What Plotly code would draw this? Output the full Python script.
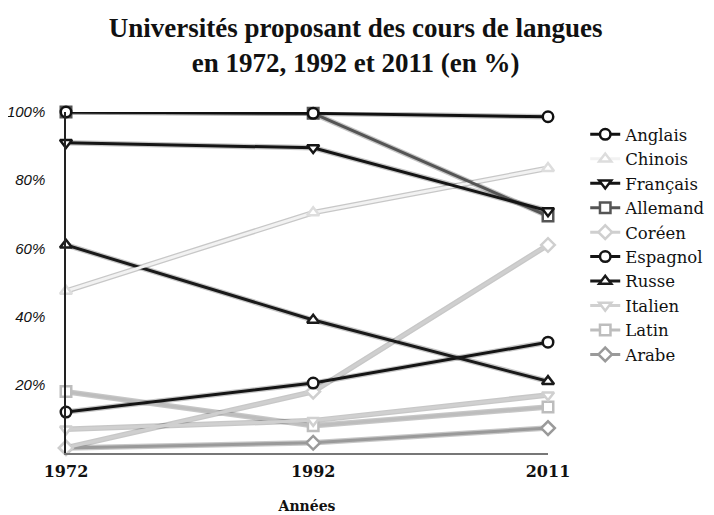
import plotly.graph_objects as go

years = [1972, 1992, 2011]
languages = ["Anglais", "Chinois", "Français", "Allemand", "Coréen",
             "Espagnol", "Russe", "Italien", "Latin", "Arabe"]
anglais = [100, 99.6, 98.6]
chinois = [47.5, 70.5, 83.5]
francais = [91, 89.5, 71]
allemand = [100, 99.6, 69.5]
coreen = [1.5, 18, 61]
espagnol = [12, 20.5, 32.5]
russe = [61, 39, 21]
italien = [7, 9.5, 17]
latin = [18, 8, 13.5]
arabe = [1.5, 3, 7.3]
y_ticks = [20, 40, 60, 80, 100]
y_tick_labels = ["20%", "40%", "60%", "80%", "100%"]

series = [anglais, chinois, francais, allemand, coreen,
          espagnol, russe, italien, latin, arabe]
colors = ["#111111", "#f2f2f2", "#151515", "#555555", "#cfcfcf",
          "#151515", "#1a1a1a", "#d0d0d0", "#bdbdbd", "#9a9a9a"]
symbols = ["circle", "triangle-up", "triangle-down", "square", "diamond",
           "circle", "triangle-up", "triangle-down", "square", "diamond"]

fig = go.Figure()

# soft shadow/outline under every line
for vals in series:
    fig.add_trace(go.Scatter(
        x=years, y=vals, mode="lines",
        line=dict(color="rgba(0,0,0,0.22)", width=5.5),
        showlegend=False, hoverinfo="skip", cliponaxis=False))

draw_order = [9, 8, 7, 4, 5, 6, 1, 3, 2, 0]
traces = {}
for i in range(len(languages)):
    traces[i] = go.Scatter(
        x=years, y=series[i], mode="lines+markers", name=languages[i],
        legendgroup=languages[i],
        line=dict(color=colors[i], width=3),
        marker=dict(symbol=symbols[i], size=10.5, color="white",
                    line=dict(color=colors[i] if i != 1 else "#dddddd", width=2.5)),
        cliponaxis=False, legendrank=i + 1)
for i in draw_order:
    fig.add_trace(traces[i])

fig.update_layout(
    width=714, height=515,
    paper_bgcolor="white", plot_bgcolor="white",
    margin=dict(l=58, r=173, t=104, b=70),
    title=dict(
        text="Universités proposant des cours de langues<br>en 1972, 1992 et 2011 (en %)",
        x=0.487, xanchor="center", y=0.944, yanchor="middle",
        font=dict(family="Liberation Serif", size=27, color="#111111", weight="bold")),
    legend=dict(
        x=1.075, xanchor="left", y=0.985, yanchor="top",
        font=dict(family="DejaVu Serif", size=16.5, color="#111111"),
        traceorder="normal", bgcolor="rgba(0,0,0,0)", tracegroupgap=0),
    xaxis=dict(
        range=[1972, 2011], tickvals=years, ticktext=[str(y) for y in years],
        showgrid=False, zeroline=False, showline=True, linecolor="#777777", linewidth=2,
        ticks="", ticklabelstandoff=3, automargin=False,
        tickfont=dict(family="DejaVu Serif", size=16, color="#111111", weight="bold"),
        title=dict(text="Années", standoff=21,
                   font=dict(family="DejaVu Serif", size=14, color="#111111", weight="bold"))),
    yaxis=dict(
        range=[0, 100], tickvals=y_ticks, ticktext=y_tick_labels,
        showgrid=False, zeroline=False, showline=True, linecolor="#222222", linewidth=1.5,
        ticks="", ticklabelstandoff=16, automargin=False,
        tickfont=dict(family="Liberation Sans", size=15, color="#111111", style="italic")),
)

fig.write_html("out.html")
